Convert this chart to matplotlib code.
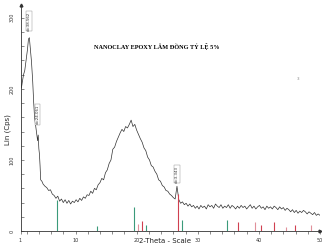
import matplotlib.pyplot as plt
import numpy as np
from matplotlib.ticker import MultipleLocator

# low-angle part of the scan (2-theta, counts)
tt_low = [1.0, 1.15, 1.3, 1.5, 1.7, 1.85, 2.0, 2.15, 2.3, 2.45, 2.6, 2.8,
          3.0, 3.15, 3.3, 3.45, 3.6, 3.7, 3.8, 3.9, 4.0, 4.1, 4.2, 4.3,
          4.5, 4.7, 5.0]
cps_low = [218, 201, 210, 220, 226, 236, 246, 256, 270, 272, 258, 238,
           210, 182, 160, 150, 140, 134, 127, 135, 116, 108, 92, 72,
           70, 66, 63]

# rest of the scan, 0.3 deg steps from 5.3 deg
start_hi = 5.3
step_hi = 0.3
cps_hi = [61, 57, 58, 52, 50, 46, 49, 42, 45, 40, 44, 39, 43, 38, 42, 40,
          44, 41, 46, 43, 48, 46, 51, 50, 56, 53, 60, 58, 65, 68, 74, 72,
          82, 86, 95, 100, 115, 118, 126, 132, 138, 143, 140, 147, 145, 150,
          156, 147, 150, 142, 136, 130, 125, 117, 113, 104, 100, 92, 90, 84,
          80, 72, 70, 64, 62, 57, 56, 52, 50, 47, 45, 63, 44, 39, 41, 37,
          39, 35, 38, 34, 36, 32, 35, 31, 36, 33, 35, 31, 37, 34, 36, 32,
          38, 35, 33, 37, 32, 35, 33, 37, 32, 36, 34, 31, 35, 32, 36, 33,
          35, 31, 34, 37, 32, 35, 31, 34, 36, 32, 34, 30, 35, 32, 34, 31,
          35, 33, 30, 34, 31, 33, 29, 32, 30, 27, 30, 26, 29, 25, 28, 26,
          29, 27, 24, 27, 25, 23, 26, 22, 24, 22]

# reference pattern sticks
stick_pos = [6.9, 13.5, 19.6, 20.3, 20.8, 21.5, 26.7, 27.4, 34.8, 36.6,
             39.4, 40.3, 42.5, 44.4, 45.9, 48.5]
stick_h = [44, 7, 34, 10, 14, 8, 52, 15, 15, 12, 12, 9, 12, 6, 9, 9]
stick_col = ['#3a9a7a', '#3a9a7a', '#3a9a7a', '#e0909a', '#d04050', '#3a9a7a',
             '#d04050', '#3a9a7a', '#3a9a7a', '#d04050', '#e0909a', '#d04050',
             '#d04050', '#e0909a', '#d04050', '#e0909a']

# peak labels (2-theta, counts, text)
lab_x = [2.4, 3.75, 26.6]
lab_y = [282, 150, 68]
lab_txt = ['d=38.562', 'd=24.061', 'd=3.343']

tt_hi = start_hi + step_hi * np.arange(len(cps_hi))
tt = np.concatenate([tt_low, tt_hi])
cps = np.concatenate([cps_low, cps_hi])

fig = plt.figure(figsize=(3.22, 2.49), dpi=100)
ax = fig.add_axes([20.5 / 322, 1 - 231 / 249, (320 - 20.5) / 322, 226 / 249])

ax.plot(tt, cps, color='#303030', lw=0.5)
ax.vlines(stick_pos, 0, stick_h, colors=stick_col, lw=0.8)

for x, y, t in zip(lab_x, lab_y, lab_txt):
    ax.text(x, y, t, rotation=90, fontsize=2.8, ha='center', va='bottom',
            color='#333333',
            bbox=dict(boxstyle='square,pad=0.15', fc='white', ec='#888888', lw=0.3))

ax.set_xlim(1, 50)
ax.set_ylim(0, 318)
ax.spines['top'].set_visible(False)
ax.spines['right'].set_visible(False)
for s in ['left', 'bottom']:
    ax.spines[s].set_linewidth(0.6)
    ax.spines[s].set_color('#333333')

ax.set_xticks([1, 10, 20, 30, 40, 50])
ax.xaxis.set_minor_locator(MultipleLocator(2))
ax.set_yticks([0, 100, 200, 300])
ax.yaxis.set_minor_locator(MultipleLocator(20))
ax.tick_params(axis='x', which='both', direction='out', labelsize=3.5,
               length=2, width=0.4, pad=3, colors='#333333')
ax.tick_params(axis='y', which='both', direction='in', labelsize=3.5,
               length=2, width=0.4, pad=4, colors='#333333')
ax.tick_params(axis='y', which='major', labelrotation=90)
for lbl in ax.get_yticklabels():
    lbl.set_va('center')

# axis arrow heads
ax.plot([0], [1], marker='^', ms=2, color='#333333', transform=ax.transAxes, clip_on=False)
ax.plot([1], [0], marker='>', ms=2, color='#333333', transform=ax.transAxes, clip_on=False)

fig.text(165 / 322, 1 - 241 / 249, '2-Theta - Scale', fontsize=5, ha='center',
         va='center', color='#222222', family='Liberation Sans Narrow')
fig.text(8 / 322, 1 - 130 / 249, 'Lin (Cps)', fontsize=5, rotation=90,
         ha='center', va='center', color='#222222')
fig.text(157 / 322, 1 - 46 / 249, 'NANOCLAY EPOXY LÂM ĐỒNG TỶ LỆ 5%',
         fontsize=4.5, fontweight='bold', family='Liberation Serif',
         ha='center', va='center', color='black')
fig.text(298 / 322, 1 - 79 / 249, '3', fontsize=3, color='#888888',
         ha='center', va='center')

fig.savefig('out.png', dpi=100)
